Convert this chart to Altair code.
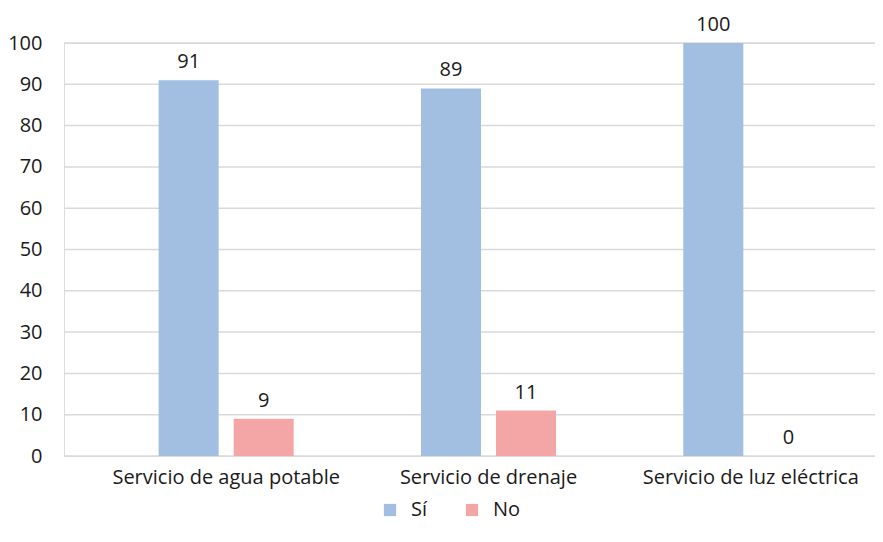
import altair as alt
import pandas as pd

categorias = ["Servicio de agua potable", "Servicio de drenaje", "Servicio de luz eléctrica"]
series = ["Sí", "No"]
valores_si = [91, 89, 100]
valores_no = [9, 11, 0]
ticks_y = [0, 10, 20, 30, 40, 50, 60, 70, 80, 90, 100]
colores = ["#a2bfe2", "#f4a6a6"]

rows = []
for c, s, n in zip(categorias, valores_si, valores_no):
    rows.append({"categoria": c, "serie": "Sí", "valor": s})
    rows.append({"categoria": c, "serie": "No", "valor": n})
df = pd.DataFrame(rows)
grid_df = pd.DataFrame({"valor": ticks_y})

FONT = "Open Sans"
FS = 20
W = 811
H = 413

yscale = alt.Scale(domain=[0, 100], nice=False)

grid = alt.Chart(grid_df).mark_rule(color="#d9d9d9", strokeWidth=1.5).encode(
    y=alt.Y("valor:Q", scale=yscale, title=None),
    x=alt.value(0),
    x2=alt.value(W),
)

base = alt.Chart(df).encode(
    x=alt.X("categoria:N", sort=categorias, title=None,
            scale=alt.Scale(paddingInner=0, paddingOuter=0, range=[31, 818]),
            axis=alt.Axis(labelAngle=0, labelFontSize=FS, labelColor="#1a1a1a",
                          labelFont=FONT, labelPadding=11, labelLimit=0,
                          ticks=False, domain=False, grid=False)),
    xOffset=alt.XOffset("serie:N", sort=series,
                        scale=alt.Scale(paddingInner=0.2, paddingOuter=0.848)),
)

bars = base.mark_bar().encode(
    y=alt.Y("valor:Q", title=None, scale=yscale,
            axis=alt.Axis(values=ticks_y, labelFontSize=FS,
                          labelColor="#1a1a1a", labelFont=FONT, labelPadding=22,
                          ticks=False, domain=False, grid=False)),
    color=alt.Color("serie:N", sort=series,
                    scale=alt.Scale(domain=series, range=colores),
                    legend=alt.Legend(title=None, orient="none", direction="horizontal",
                                      legendX=316, legendY=457, symbolType="square",
                                      symbolSize=150, symbolStrokeWidth=0,
                                      labelFontSize=FS, labelFont=FONT,
                                      labelColor="#1a1a1a", columnPadding=34,
                                      labelOffset=11, symbolOpacity=1)),
)

labels = base.mark_text(baseline="alphabetic", dy=-12, fontSize=FS, font=FONT,
                        color="#1a1a1a").encode(
    y=alt.Y("valor:Q", scale=yscale),
    text=alt.Text("valor:Q"),
)

chart = (grid + bars + labels).properties(
    width=W, height=H,
    autosize=alt.AutoSizeParams(type="none"),
    padding={"left": 56, "top": 35, "right": 0, "bottom": 66},
).configure_view(stroke=None).configure(background="white")

chart.save("out.html", embed_options={"renderer": "svg", "actions": False})
